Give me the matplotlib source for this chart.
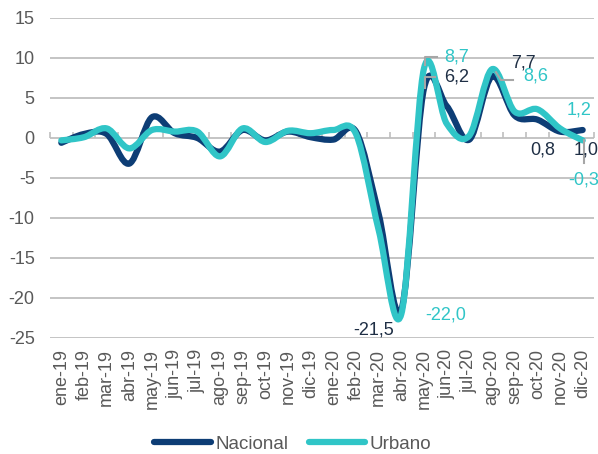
import numpy as np
import matplotlib
matplotlib.use("Agg")
import matplotlib.pyplot as plt
from matplotlib.path import Path
from matplotlib.patches import PathPatch
import matplotlib.transforms as mtransforms

plt.rcParams["font.family"] = ["Liberation Sans", "DejaVu Sans"]
plt.rcParams["axes.unicode_minus"] = False

MESES = ["ene-19", "feb-19", "mar-19", "abr-19", "may-19", "jun-19",
         "jul-19", "ago-19", "sep-19", "oct-19", "nov-19", "dic-19",
         "ene-20", "feb-20", "mar-20", "abr-20", "may-20", "jun-20",
         "jul-20", "ago-20", "sep-20", "oct-20", "nov-20", "dic-20"]
NACIONAL = [-0.6, 0.5, 0.5, -3.2, 2.6, 0.6, 0.0, -1.7, 1.0, -0.3, 0.8, 0.1,
            -0.2, 0.8, -9.5, -21.5, 6.2, 4.0, -0.2, 7.7, 2.8, 2.3, 0.8, 1.0]
URBANO = [-0.3, 0.1, 1.2, -1.3, 1.0, 0.8, 0.8, -2.3, 1.2, -0.5, 0.9, 0.6,
          1.0, 0.5, -11.5, -22.0, 8.7, 1.8, 0.3, 8.6, 3.3, 3.6, 1.2, -0.3]

AZUL = "#0d3d75"
TURQUESA = "#30c5c7"
GRIS = "#bfbfbf"
TEXTO = "#595959"

# etiquetas: (serie, indice, texto, dx, dy) en pixeles
ETIQUETAS = [
    ("u", 16, "8,7", 33, 11),
    ("n", 16, "6,2", 33, 11),
    ("n", 19, "7,7", 31, 13),
    ("u", 19, "8,6", 44, -7),
    ("u", 22, "1,2", 19, 18),
    ("n", 22, "0,8", -17, -18),
    ("n", 23, "1,0", 3, -20),
    ("u", 23, "-0,3", 1, -40),
    ("n", 15, "-21,5", -28, -20),
    ("u", 15, "-22,0", 44, -1),
]
# lineas guia: (serie, indice, lista de offsets en pixeles)
GUIAS = [
    ("u", 16, [(13, 11.7), (1, 11.7), (1, 3.4)]),
    ("n", 16, [(11, 11.7), (1, 11.7), (1, 0.4)]),
    ("u", 19, [(4, -3), (9, -10.8), (21, -10.8)]),
    ("n", 23, [(1, -10), (1, -33)]),
]


def curva_suave(xs, ys):
    """Path de Bezier tipo 'linea suavizada' de Excel."""
    pts = np.column_stack([xs, ys]).astype(float)
    n = len(pts)
    verts = [pts[0]]
    codes = [Path.MOVETO]
    for i in range(n - 1):
        p0 = pts[i - 1] if i > 0 else pts[i]
        p1 = pts[i]
        p2 = pts[i + 1]
        p3 = pts[i + 2] if i + 2 < n else pts[i + 1]
        c1 = p1 + (p2 - p0) / 6.0
        c2 = p2 - (p3 - p1) / 6.0
        verts += [c1, c2, p2]
        codes += [Path.CURVE4] * 3
    return Path(verts, codes)


fig = plt.figure(figsize=(5.98, 4.54), dpi=100)
ax = fig.add_axes([50 / 598, 1 - 338 / 454, 544 / 598, 320 / 454])

x = np.arange(len(MESES))
series = {"n": NACIONAL, "u": URBANO}
colores = {"n": AZUL, "u": TURQUESA}

for clave, nombre in (("n", "Nacional"), ("u", "Urbano")):
    patch = PathPatch(curva_suave(x, series[clave]), fill=False,
                      edgecolor=colores[clave], lw=4.5,
                      capstyle="round", joinstyle="round", zorder=3)
    ax.add_patch(patch)
    ax.plot([], [], color=colores[clave], lw=4.5, label=nombre,
            solid_capstyle="round")

ax.set_xlim(-0.5, len(MESES) - 0.5)
ax.set_ylim(-25, 15)
ax.set_yticks(np.arange(-25, 16, 5))
ax.grid(axis="y", color=GRIS, lw=1.3)
ax.set_axisbelow(True)
for s in ax.spines.values():
    s.set_visible(False)

ax.set_xticks(x)
ax.set_xticklabels(MESES, rotation=90)
ax.tick_params(axis="x", length=0, pad=8, labelsize=13, labelcolor=TEXTO)
ax.tick_params(axis="y", length=0, pad=11, labelsize=13, labelcolor=TEXTO)

# marcas del eje en la linea de cero
y0, y1 = ax.get_ylim()
eje = ax.secondary_xaxis((0 - y0) / (y1 - y0))
eje.set_xticks(np.arange(-0.5, len(MESES), 1.0))
eje.set_xticklabels([])
eje.tick_params(length=4, width=1.2, color=GRIS, labelbottom=False,
                labeltop=False)
for s in eje.spines.values():
    s.set_visible(False)

for clave, i, texto, dx, dy in ETIQUETAS:
    color = "#1f2f45" if clave == "n" else TURQUESA
    ax.annotate(texto, xy=(i, series[clave][i]), xytext=(dx, dy),
                textcoords="offset pixels", ha="center", va="center",
                fontsize=13, color=color, zorder=5, annotation_clip=False)

for clave, i, offs in GUIAS:
    px, py = ax.transData.transform((i, series[clave][i]))
    t = mtransforms.Affine2D().translate(px, py)
    dxs = [o[0] for o in offs]
    dys = [o[1] for o in offs]
    ax.plot(dxs, dys, color="#a6a6a6", lw=1.5, transform=t, zorder=4,
            clip_on=False)

fig.legend(loc="lower center", bbox_to_anchor=(0.49, -0.035), ncol=2,
           frameon=False, fontsize=13.5, handlelength=3.0,
           handletextpad=0.25, columnspacing=1.1, labelcolor=TEXTO)

fig.savefig("out.png", dpi=100)
